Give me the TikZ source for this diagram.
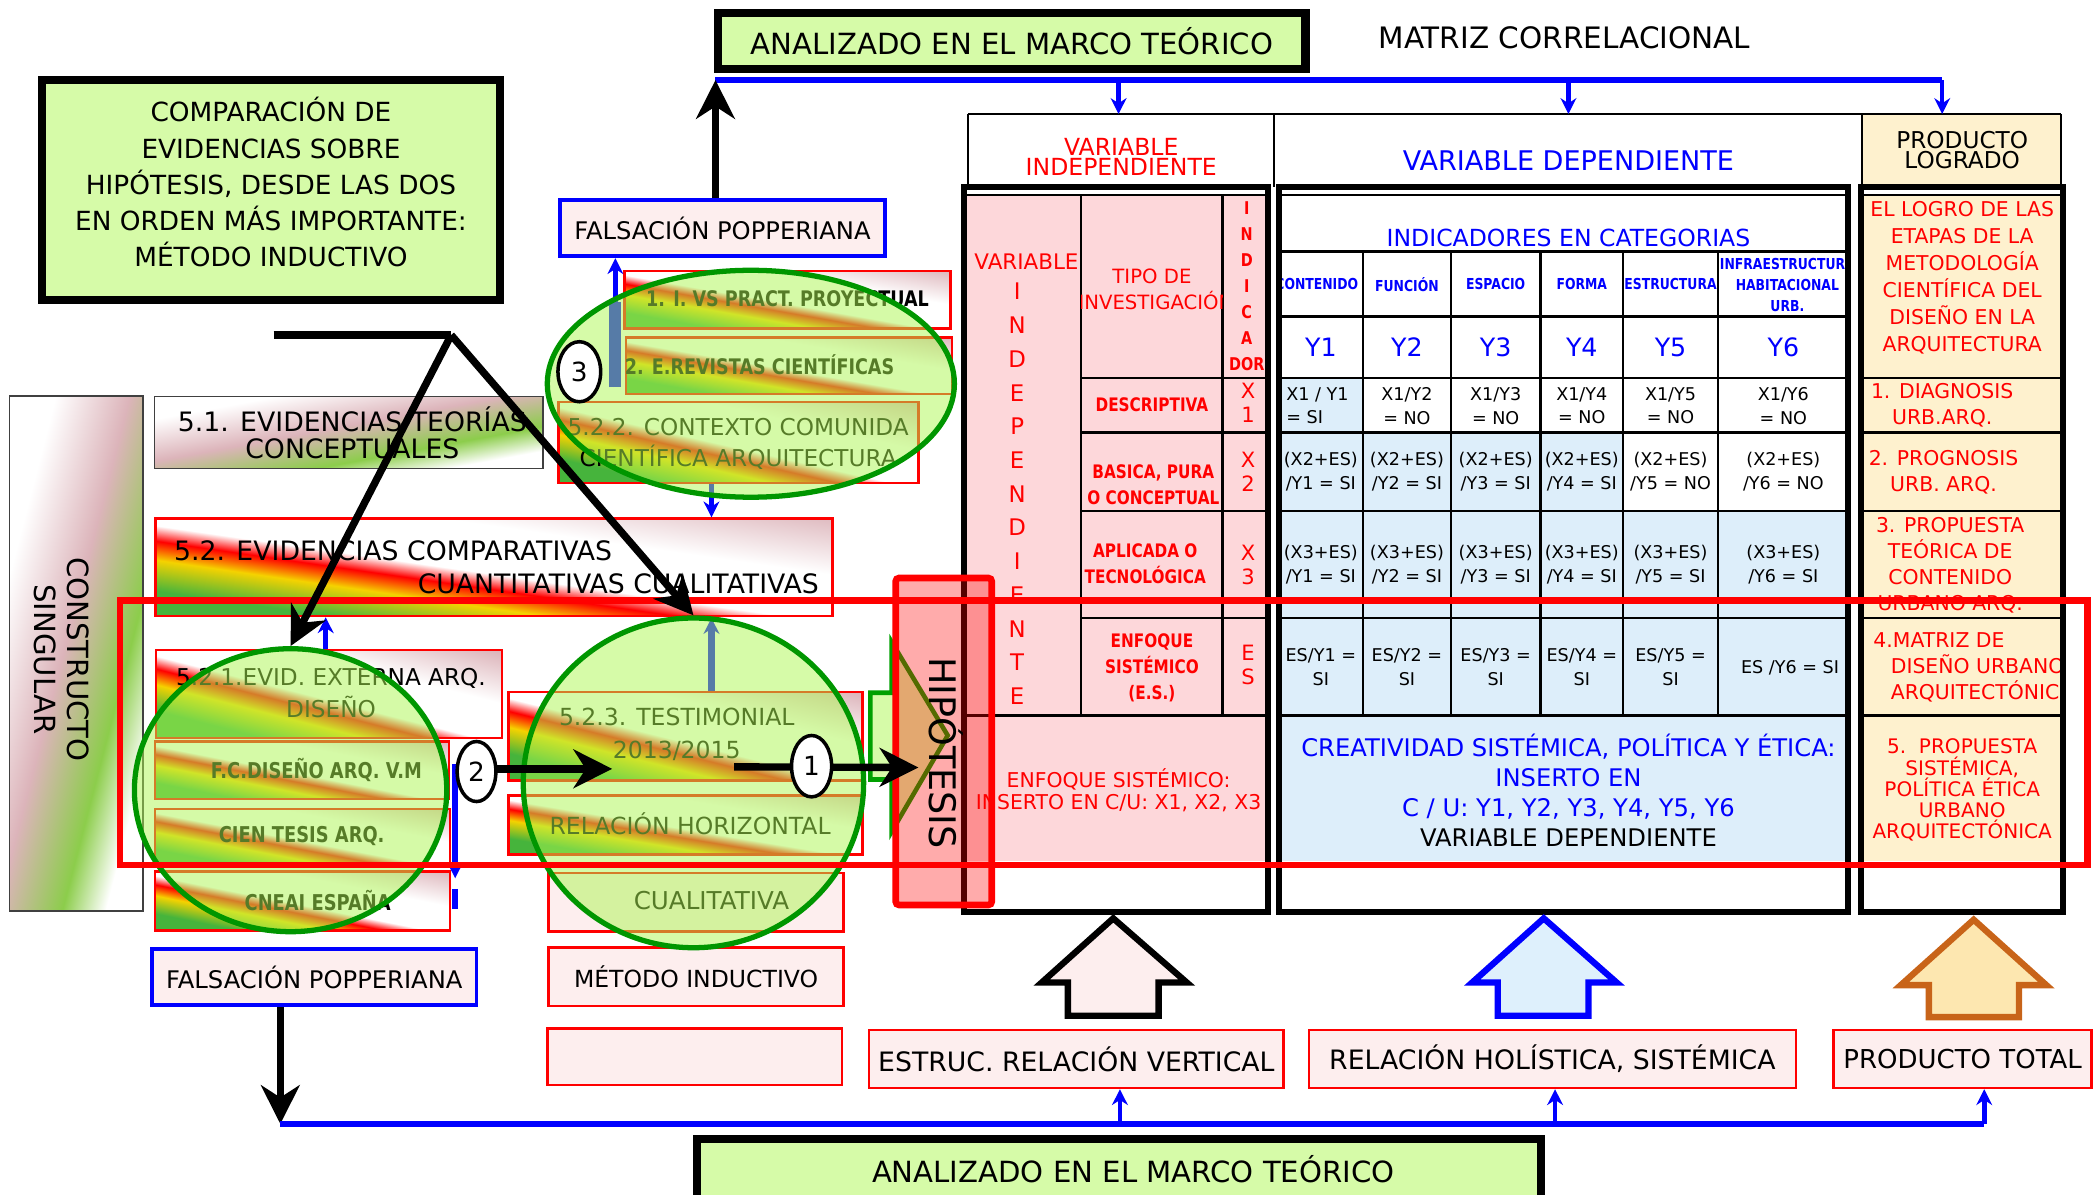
\documentclass[tikz,border=0pt]{standalone}
\usepackage{fontspec}
\setmainfont{DejaVu Sans}
\newfontfamily\narrowfont[FakeStretch=0.82]{DejaVu Sans}
\usetikzlibrary{shapes.geometric,arrows.meta}

\newdimen\pxl
\pxl=0.01335cm
\newcommand\fs[2]{\fontsize{#1pt}{#2pt}\selectfont}
\newcommand\nb{\narrowfont\bfseries}

\definecolor{boxgreen}{RGB}{214,251,168}
\definecolor{softpink}{RGB}{253,238,238}
\definecolor{cellpink}{RGB}{253,215,218}
\definecolor{cellblue}{RGB}{221,238,250}
\definecolor{celltan}{RGB}{254,241,206}
\definecolor{ellline}{RGB}{0,150,0}
\definecolor{ellfill}{RGB}{173,247,81}
\definecolor{evgreen}{RGB}{70,180,60}
\definecolor{evyellow}{RGB}{245,210,0}
\definecolor{evpink}{RGB}{220,180,186}
\definecolor{tegreen}{RGB}{140,205,75}
\definecolor{arrowblue}{RGB}{222,240,252}
\definecolor{arrowtan}{RGB}{253,231,176}
\definecolor{arroworange}{RGB}{200,100,25}
\definecolor{hipogreen}{RGB}{0,160,0}

\pgfdeclarehorizontalshading{evid}{100bp}{color(0bp)=(evgreen); color(29bp)=(evgreen); color(38bp)=(evyellow); color(43.5bp)=(red); color(48bp)=(white); color(62bp)=(white); color(80bp)=(evpink); color(100bp)=(evpink)}
\pgfdeclarehorizontalshading{teor}{100bp}{color(0bp)=(white); color(30bp)=(white); color(47bp)=(evpink); color(62bp)=(tegreen); color(72bp)=(white); color(100bp)=(white)}

\tikzset{
  sz/.style 2 args={minimum width=#1*\pxl, minimum height=#2*\pxl},
  txt/.style={inner sep=0pt, align=center},
  thickbox/.style={draw=black, line width=2.3pt, fill=boxgreen, inner sep=0pt},
  bluebox/.style={draw=blue, line width=1.1pt, fill=softpink, inner sep=0pt},
  redbox/.style={draw=red, line width=0.7pt, fill=softpink, inner sep=0pt},
  evbox/.style={draw=red, line width=0.7pt, shade, shading=evid, shading angle=#1, inner sep=0pt},
  teorbox/.style={draw=black!75, line width=0.5pt, shade, shading=teor, shading angle=#1, inner sep=0pt},
  cluster/.style={ellipse, draw=ellline, line width=1.5pt, fill=ellfill, fill opacity=0.5, inner sep=0pt},
  num/.style={ellipse, draw=black, line width=1pt, fill=white, inner sep=0pt, font=\fs{7.5}{9}},
  blueline/.style={blue, line width=1.8pt},
  bluearrow/.style={blue, line width=1.3pt, -{Stealth[length=4.5pt,width=4.5pt]}},
  blackarrow/.style={black, line width=2.1pt, -{Stealth[length=11pt,width=11pt,inset=3.5pt]}},
  grid/.style={black, line width=0.7pt},
  frame/.style={black, line width=1.7pt},
  cell/.style={txt, font=\fs{5}{6.8}}
}

\begin{document}
\begin{tikzpicture}[x=0.01335cm, y=-0.01335cm]
  \useasboundingbox (0,0) rectangle (1568,895);
  \clip (0,0) rectangle (1568,895);
  % Top title boxes
  \node[thickbox, sz={440}{41.5}, font=\fs{8.3}{10}] (marcoTop) at (758,30.75) {ANALIZADO EN EL MARCO TEÓRICO};
  \node[txt, font=\fs{8.4}{10}] (matriz) at (1172,28) {MATRIZ CORRELACIONAL};
  \node[thickbox, sz={343}{165}] (compara) at (203,142.6) {};
  \node[txt, font=\fs{7.5}{10.3}] (comparaTxt) at (203,136.5)
    {COMPARACIÓN DE\\EVIDENCIAS SOBRE\\HIPÓTESIS, DESDE LAS DOS\\EN ORDEN MÁS IMPORTANTE:\\MÉTODO INDUCTIVO};
  \node[bluebox, sz={243}{42}, font=\fs{6.9}{8}] (falsTop) at (541.25,171) {FALSACIÓN POPPERIANA};

  % Left column
  \node[teorbox=-14.5, sz={100}{386}] (constr) at (57.1,489.5) {};
  \node[txt, rotate=-90, font=\fs{8.3}{9.5}] (constrTxt) at (46,494) {CONSTRUCTO\\SINGULAR};
  \node[teorbox=-79.5, sz={291}{54}] (ev51) at (261.25,324) {};
  \node[txt, font=\fs{7.6}{7.6}] (ev51Txt) at (264,324) {5.1. EVIDENCIAS TEORÍAS\\CONCEPTUALES};
  \node[evbox=81.8, sz={507}{73}] (ev52) at (370,425) {};
  \node[txt, anchor=west, font=\fs{7.6}{9}] (ev52a) at (130,413) {5.2. EVIDENCIAS COMPARATIVAS};
  \node[txt, anchor=east, font=\fs{7.6}{9}] (ev52b) at (614,437) {CUANTITATIVAS CUALITATIVAS};
  \node[evbox=75.7, sz={259}{66}] (ev521) at (246.5,520) {};
  \node[txt, font=\fs{6.6}{9}] (ev521Txt) at (248,519) {5.2.1.EVID. EXTERNA ARQ.\\DISEÑO};
  \node[evbox=79, sz={220.5}{43}] (fcd) at (226.25,577) {};
  \node[txt, font=\nb\fs{6.2}{7}] (fcdTxt) at (237,577) {F.C.DISEÑO ARQ. V.M};
  \node[evbox=79.2, sz={221}{42}] (tesis) at (226.5,627) {};
  \node[txt, font=\nb\fs{6.2}{7}] (tesisTxt) at (226,626) {CIEN TESIS ARQ.};
  \node[evbox=78.7, sz={221}{44}] (cneai) at (226.5,675) {};
  \node[txt, font=\nb\fs{6.2}{7}] (cneaiTxt) at (238,675) {CNEAI ESPAÑA};
  \node[bluebox, sz={243}{42}, font=\fs{6.9}{8}] (falsBot) at (235.5,732) {FALSACIÓN POPPERIANA};

  % Upper cluster
  \node[evbox=80, sz={244}{43}] (ivs) at (590,224.5) {};
  \node[txt, font=\nb\fs{6.1}{7}] (ivsTxt) at (590,224) {1. I. VS PRACT. PROYECTUAL};
  \node[evbox=80.2, sz={244}{42}] (revis) at (591,274) {};
  \node[txt, font=\nb\fs{6.1}{7}] (revisTxt) at (569,273) {2. E.REVISTAS CIENTÍFICAS};
  \node[evbox=77.2, sz={269.5}{61}] (ctx) at (553.25,331.5) {};
  \node[txt, font=\fs{6.6}{8.7}] (ctxTxt) at (553,332.5) {5.2.2. CONTEXTO COMUNIDA\\CIENTÍFICA ARQUITECTURA};

  % Middle column
  \node[evbox=76, sz={265}{66}] (testim) at (513.5,551.6) {};
  \node[txt, font=\fs{6.7}{9.5}] (testimTxt) at (507,550) {5.2.3. TESTIMONIAL\\2013/2015};
  \node[evbox=80.6, sz={265}{44}] (relh) at (513.5,618) {};
  \node[txt, font=\fs{6.7}{8}] (relhTxt) at (517,617) {RELACIÓN HORIZONTAL};
  \node[redbox, sz={221}{44}] (cual) at (521.5,676) {};
  \node[txt, font=\fs{7}{8}] (cualTxt) at (533,675) {CUALITATIVA};
  \node[redbox, sz={221}{43.6}, font=\fs{6.7}{8}] (metodo) at (521.5,731.8) {MÉTODO INDUCTIVO};
  \node[redbox, sz={220.7}{42.5}] (vacio) at (520.35,791.75) {};

  % Blue links under the clusters
  \coordinate (b3) at (461,290);
  \coordinate (b3top) at (461,226);
  \coordinate (b5) at (533,0);
  \coordinate (b1) at (244,0);
  \coordinate (ellBtop) at (519.5,463);
  \draw[blue, line width=3.4pt] (b3) -- (b3top);
  \draw[bluearrow] (b3) -- (b3 |- falsTop.south);
  \draw[bluearrow] (ctx.south -| b5) -- (ev52.north -| b5);
  \draw[bluearrow] (ev521.north -| b1) -- (ev52.south -| b1);
  \draw[bluearrow, line width=2.1pt] (testim.north -| b5) -- (b5 |- ellBtop);
  \coordinate (b2a) at (341,572);
  \coordinate (b2b) at (341,658);
  \coordinate (b2c) at (341,666);
  \coordinate (b2d) at (341,681);
  \draw[bluearrow, line width=1.6pt] (b2a) -- (b2b);
  \draw[blue, line width=1.6pt] (b2c) -- (b2d);

  % Clusters
  \node[cluster, sz={234}{212}] (ellA) at (217.7,592) {};
  \node[cluster, sz={255}{247}] (ellB) at (519.5,586.5) {};
  \node[cluster, sz={305}{170}] (ellC) at (562.5,287.5) {};

  % Table fills
  \fill[cellpink] (723,146) rectangle (950,645);
  \fill[cellblue] (958,283) rectangle (1021,324);
  \fill[cellblue] (958,324) rectangle (1216,383);
  \fill[cellblue] (958,383) rectangle (1385,645);
  \fill[celltan] (1394,146) rectangle (1545,645);
  \fill[celltan] (1395,85.4) rectangle (1544,140);
  % Table header
  \draw[grid] (725,85.4) -- (1544,85.4);
  \foreach \x in {725,954.5,1395,1544}
    \draw[grid] (\x,85.4) -- (\x,140);
  \node[txt, text=red, font=\fs{6.7}{5.7}] (hVI) at (840,117.5) {VARIABLE\\INDEPENDIENTE};
  \node[txt, text=blue, font=\fs{7.7}{9}] (hVD) at (1175,120) {VARIABLE DEPENDIENTE};
  \node[txt, font=\fs{6.6}{5.7}] (hPL) at (1470,112.5) {PRODUCTO\\LOGRADO};
  % Grid lines
  \draw[grid] (723,146) -- (950,146) (810,146) -- (810,536) (916,146) -- (916,536);
  \foreach \y in {283,324,383,463}
    \draw[grid] (810,\y) -- (950,\y);
  \draw[grid] (723,536) -- (950,536);
  \draw[grid] (958,146) -- (1385,146);
  \foreach \y in {188.5,237,283,324,383,463,536}
    \draw[grid] (958,\y) -- (1385,\y);
  \foreach \x in {1021,1087,1154,1216,1287}
    \draw[grid] (\x,188.5) -- (\x,536);
  \foreach \y in {146,283,324,383,463,536}
    \draw[grid] (1394,\y) -- (1545,\y);

  % Independent variable block
  \begin{scope}
    \clip (810,146) rectangle (916,283);
    \node[txt, text=red, font=\fs{5.6}{6.8}] (tipoB) at (866,225) {INVESTIGACIÓN};
  \end{scope}
  \begin{scope}
    \clip (723,146) rectangle (950,645);
    \node[txt, text=red, font=\fs{6.1}{7}] (viTop) at (769,196) {VARIABLE};
    \node[txt, text=red, font=\fs{6.5}{9.6}] (viCol) at (762,370) {I\\N\\D\\E\\P\\E\\N\\D\\I\\E\\N\\T\\E};
    \node[txt, text=red, font=\fs{5.6}{6.8}] (tipoA) at (863,207) {TIPO DE};
    \node[txt, text=red, font=\nb\fs{5}{7.4}] (indic) at (934,214.5) {I\\N\\D\\I\\C\\A\\DOR};
    \node[txt, text=red, font=\fs{6}{6.8}] (x1) at (935,302) {X\\1};
    \node[txt, text=red, font=\fs{6}{6.8}] (x2) at (935,353.5) {X\\2};
    \node[txt, text=red, font=\fs{6}{6.8}] (x3) at (935,423) {X\\3};
    \node[txt, text=red, font=\fs{6}{6.8}] (xes) at (935,498.5) {E\\S};
    \node[txt, text=red, font=\nb\fs{5.3}{7.4}] (descr) at (863,303) {DESCRIPTIVA};
    \node[txt, text=red, font=\nb\fs{5.3}{7.4}] (basica) at (864,363) {BASICA, PURA\\O CONCEPTUAL};
    \node[txt, text=red, font=\nb\fs{5.3}{7.4}] (aplic) at (858,422.5) {APLICADA O\\TECNOLÓGICA};
    \node[txt, text=red, font=\nb\fs{5.3}{7.4}] (enfq) at (863,500) {ENFOQUE\\SISTÉMICO\\(E.S.)};
    \node[txt, text=red, font=\fs{5.8}{6.1}] (enfqB) at (838,592) {ENFOQUE SISTÉMICO:\\INSERTO EN C/U: X1, X2, X3};
  \end{scope}

  % Dependent variable block
  \node[txt, text=blue, font=\fs{6.7}{8}] (indcat) at (1175,178) {INDICADORES EN CATEGORIAS};
  \begin{scope}
    \clip (958,188.5) rectangle (1021,237);
    \node[txt, text=blue, font=\nb\fs{4.3}{5.9}] (catA) at (986.5,213) {CONTENIDO};
  \end{scope}
  \node[txt, text=blue, font=\nb\fs{4.3}{5.9}] (catB) at (1054,213) {FUNCIÓN};
  \node[txt, text=blue, font=\nb\fs{4.3}{5.9}] (catC) at (1120.5,213) {ESPACIO};
  \node[txt, text=blue, font=\nb\fs{4.3}{5.9}] (catD) at (1185,213) {FORMA};
  \node[txt, text=blue, font=\nb\fs{4.3}{5.9}] (catE) at (1251.5,213) {ESTRUCTURA};
  \begin{scope}
    \clip (1287,188.5) rectangle (1385,237);
    \node[txt, text=blue, font=\nb\fs{4.3}{5.9}] (catF) at (1339,213.5) {INFRAESTRUCTURA\\HABITACIONAL\\URB.};
  \end{scope}
  \foreach \x/\n in {989.5/1,1054/2,1120.5/3,1185/4,1251.5/5,1336/6}
    \node[txt, text=blue, font=\fs{7.2}{8}] (y\n) at (\x,260) {Y\n};
  % Correlation cells
  \node[cell, align=left] (ra1) at (987,304) {X1 / Y1\\= SI};
  \foreach \x/\n in {1054/2,1120.5/3,1185/4,1251.5/5,1336/6}
    \node[cell] (ra\n) at (\x,304) {X1/Y\n\\= NO};
  \foreach \x/\n/\v in {989.5/1/SI,1054/2/SI,1120.5/3/SI,1185/4/SI,1251.5/5/NO,1336/6/NO}
    \node[cell] (rb\n) at (\x,353.5) {(X2+ES)\\/Y\n{} = \v};
  \foreach \x/\n in {989.5/1,1054/2,1120.5/3,1185/4,1251.5/5,1336/6}
    \node[cell] (rc\n) at (\x,423) {(X3+ES)\\/Y\n{} = SI};
  \foreach \x/\n in {989.5/1,1054/2,1120.5/3,1185/4,1251.5/5}
    \node[cell] (rd\n) at (\x,499.5) {ES/Y\n{} =\\SI};
  \node[cell] (rd6) at (1341,500) {ES /Y6 = SI};
  \node[txt, text=blue, font=\fs{6.9}{8.6}] (creat) at (1175,592)
    {CREATIVIDAD SISTÉMICA, POLÍTICA Y ÉTICA:\\INSERTO EN\\C / U: Y1, Y2, Y3, Y4, Y5, Y6\\\textcolor{black}{VARIABLE DEPENDIENTE}};

  % Product block
  \node[txt, text=red, font=\fs{5.8}{7.7}] (logro) at (1470,208)
    {EL LOGRO DE LAS\\ETAPAS DE LA\\METODOLOGÍA\\CIENTÍFICA DEL\\DISEÑO EN LA\\ARQUITECTURA};
  \node[txt, text=red, font=\fs{5.8}{7.4}] (p1) at (1455,303.5) {1. DIAGNOSIS\\URB.ARQ.};
  \node[txt, text=red, font=\fs{5.8}{7.4}] (p2) at (1456,354) {2. PROGNOSIS\\URB. ARQ.};
  \node[txt, text=red, font=\fs{5.8}{7.4}] (p3) at (1461,423.5) {3. PROPUESTA\\TEÓRICA DE\\CONTENIDO\\URBANO ARQ.};
  \begin{scope}
    \clip (1394,463) rectangle (1545,536);
    \node[txt, anchor=west, align=left, text=red, font=\fs{5.8}{7.5}] (p4) at (1403,500)
      {4.MATRIZ DE\\\hspace*{13\pxl}DISEÑO URBANO\\\hspace*{13\pxl}ARQUITECTÓNICO};
  \end{scope}
  \node[txt, text=red, font=\fs{5.7}{6.05}] (p5) at (1470,592)
    {5.\ \ PROPUESTA\\SISTÉMICA,\\POLÍTICA ÉTICA\\URBANO\\ARQUITECTÓNICA};
  % Table frames
  \draw[frame] (722.5,140) rectangle (950,683.5);
  \draw[frame] (958.5,140) rectangle (1384.5,683.5);
  \draw[frame] (1394,140) rectangle (1545.5,683.5);

  % Bottom row
  \filldraw[fill=softpink, draw=black, line width=1.8pt] (834,688) -- (889,736) -- (868,736) -- (868,761) -- (800,761) -- (800,736) -- (780.5,736) -- cycle;
  \filldraw[fill=arrowblue, draw=blue, line width=1.8pt] (1156.5,688) -- (1211,736) -- (1190,736) -- (1190,761) -- (1122,761) -- (1122,736) -- (1103,736) -- cycle;
  \filldraw[fill=arrowtan, draw=arroworange, line width=1.8pt] (1478.6,689) -- (1533,738) -- (1512.5,738) -- (1512.5,762) -- (1445,762) -- (1445,738) -- (1424,738) -- cycle;
  \node[redbox, sz={310.7}{43.4}, font=\fs{7.6}{9}] (estruc) at (806.35,793.3) {ESTRUC. RELACIÓN VERTICAL};
  \node[redbox, sz={365}{43.4}, font=\fs{7.6}{9}] (holis) at (1163,793.3) {RELACIÓN HOLÍSTICA, SISTÉMICA};
  \node[redbox, sz={193.3}{43.4}, font=\fs{7.4}{9}] (prodT) at (1470.35,793.3) {PRODUCTO TOTAL};
  \node[thickbox, sz={632}{50}] (marcoBot) at (838.25,878) {};
  \node[txt, font=\fs{8.3}{10}] (marcoBotTxt) at (849,876) {ANALIZADO EN EL MARCO TEÓRICO};

  % Hypothesis
  \filldraw[fill=boxgreen, draw=hipogreen, line width=1.3pt] (652,519) -- (668,519) -- (668,481) -- (710,551) -- (668,623) -- (668,584) -- (652,584) -- cycle;
  \node[draw=red, line width=1.9pt, fill=red, fill opacity=0.33, rounded corners=1pt, sz={72}{245}] (hipo) at (707,555.5) {};
  \node[txt, rotate=-90, font=\fs{10.4}{12}] (hipoTxt) at (709,564) {HIPÓTESIS};

  % Highlight frame
  \draw[red, line width=1.9pt] (90,450) rectangle (1564,648);

  % Connectors top
  \coordinate (topL) at (536,60);
  \coordinate (topR) at (1455,60);
  \coordinate (hdA) at (838,85.4);
  \coordinate (hdB) at (1175,85.4);
  \coordinate (hdC) at (1455,85.4);
  \draw[blueline] (topL) -- (topR);
  \foreach \h in {hdA,hdB,hdC}
    \draw[bluearrow] (\h |- topL) -- (\h);
  \draw[blackarrow] (topL |- falsTop.north) -- (topL);
  % Connectors bottom
  \coordinate (botL) at (210,842);
  \coordinate (botR) at (1486.5,842);
  \coordinate (upA) at (839,816);
  \coordinate (upB) at (1165,816);
  \coordinate (upC) at (1486.5,816);
  \draw[blackarrow] (botL |- falsBot.south) -- (botL);
  \draw[blueline] (botL) -- (botR);
  \foreach \u in {upA,upB,upC}
    \draw[bluearrow] (\u |- botL) -- (\u);

  % Fork from the comparison box
  \coordinate (barL) at (205,251);
  \coordinate (fork) at (338,251);
  \draw[black, line width=2.2pt] (barL) -- (fork);
  \draw[blackarrow] (fork) -- (ellA.north);
  \draw[blackarrow] (fork) -- (ellB.north);
  % Numbered steps
  \coordinate (a2start) at (372,576);
  \coordinate (a2tip) at (458.6,576);
  \coordinate (a1start) at (550,574.5);
  \coordinate (a1tip) at (688,575);
  \draw[blackarrow] (a2start) -- (a2tip);
  \draw[blackarrow] (a1start) -- (a1tip);
  \node[num, sz={32}{45}] (c3) at (434,278.5) {3};
  \node[num, sz={29}{45}] (c2) at (357,578) {2};
  \node[num, sz={30}{46}] (c1) at (608,574) {1};
\end{tikzpicture}
\end{document}
